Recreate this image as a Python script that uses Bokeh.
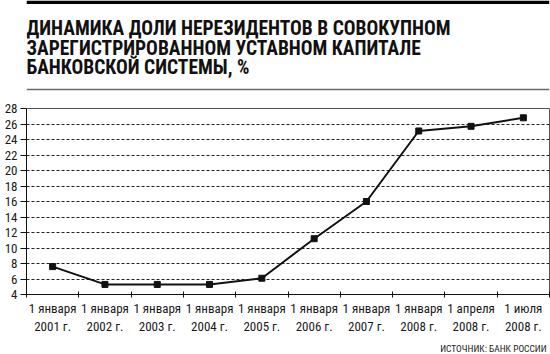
from bokeh.plotting import figure
from bokeh.layouts import column
from bokeh.models import Range1d, FixedTicker, Span
from bokeh.embed import file_html
from bokeh.resources import INLINE
from bokeh.core.properties import value

categories = ["1 января\n2001 г.", "1 января\n2002 г.", "1 января\n2003 г.", "1 января\n2004 г.",
              "1 января\n2005 г.", "1 января\n2006 г.", "1 января\n2007 г.", "1 января\n2008 г.",
              "1 апреля\n2008 г.", "1 июля\n2008 г."]
values = [7.6, 5.3, 5.3, 5.3, 6.1, 11.2, 16.0, 25.1, 25.7, 26.8]
y_ticks = list(range(4, 30, 2))
title_lines = ["ДИНАМИКА ДОЛИ НЕРЕЗИДЕНТОВ В СОВОКУПНОМ",
               "ЗАРЕГИСТРИРОВАННОМ УСТАВНОМ КАПИТАЛЕ",
               "БАНКОВСКОЙ СИСТЕМЫ, %"]
source_text = ["ИСТОЧНИК: БАНК РОССИИ"]

COND = "Roboto Condensed"
W = 550
TOP_H, CHART_H, FOOT_H = 100, 236, 18

# ---------- header ----------
head = figure(width=W, height=TOP_H, output_backend="svg", toolbar_location=None,
              x_range=Range1d(0, W), y_range=Range1d(TOP_H, 0),
              min_border=0, min_border_left=0, min_border_right=0,
              min_border_top=0, min_border_bottom=0)
head.axis.visible = False
head.grid.visible = False
head.outline_line_color = None
head.background_fill_color = "white"
head.border_fill_color = "white"
head.add_layout(Span(location=1.75, dimension="width", line_color="black", line_width=3.5))
head.add_layout(Span(location=89, dimension="width", line_color="#6a6a6a", line_width=1.6))
head.text([0] * len(title_lines), [28 + 19.5 * i for i in range(len(title_lines))],
          text=title_lines, text_font=value(COND), text_font_style="bold",
          text_font_size="19.5px", text_color="#111111",
          text_baseline="alphabetic", text_align="left")

# ---------- chart ----------
FL, FR = 26, 549
p = figure(width=W, height=CHART_H, output_backend="svg", toolbar_location=None,
           x_range=Range1d(0, len(categories)), y_range=Range1d(4, 28),
           min_border_left=FL, min_border_right=W - FR, min_border_top=8,
           min_border_bottom=36)
p.background_fill_color = "white"
p.border_fill_color = "white"
p.outline_line_color = "#555555"
p.outline_line_width = 1

xs = [i + 0.5 for i in range(len(categories))]
p.line(xs, values, line_color="#111111", line_width=2)
p.scatter(xs, values, marker="square", size=6, fill_color="#111111", line_color="#111111")

xa = p.xaxis[0]
xa.ticker = FixedTicker(ticks=xs, minor_ticks=list(range(0, len(categories) + 1)))
xa.major_label_overrides = {x: c for x, c in zip(xs, categories)}
xa.major_tick_in = 0
xa.major_tick_out = 0
xa.minor_tick_in = 3
xa.minor_tick_out = 3
xa.minor_tick_line_color = "#111111"
xa.axis_line_color = "#111111"
xa.major_label_text_font = COND
xa.major_label_text_font_size = "13px"
xa.major_label_text_color = "#1a1a1a"
xa.major_label_standoff = 3

ya = p.yaxis[0]
ya.ticker = FixedTicker(ticks=y_ticks)
ya.major_tick_in = 0
ya.major_tick_out = 6
ya.minor_tick_line_color = None
ya.axis_line_color = "#111111"
ya.major_tick_line_color = "#111111"
ya.major_label_text_font = COND
ya.major_label_text_font_size = "13px"
ya.major_label_text_color = "#1a1a1a"
ya.major_label_standoff = 3

p.xgrid.grid_line_color = None
p.ygrid.ticker = FixedTicker(ticks=y_ticks[1:-1])
p.ygrid.grid_line_color = "#222222"
p.ygrid.grid_line_dash = "3 2"
p.ygrid.grid_line_width = 1

# ---------- footer ----------
foot = figure(width=W, height=FOOT_H, output_backend="svg", toolbar_location=None,
              x_range=Range1d(0, W), y_range=Range1d(FOOT_H, 0),
              min_border=0, min_border_left=0, min_border_right=0,
              min_border_top=0, min_border_bottom=0)
foot.axis.visible = False
foot.grid.visible = False
foot.outline_line_color = None
foot.background_fill_color = "white"
foot.border_fill_color = "white"
foot.text([547], [12], text=source_text, text_font=value(COND),
          text_font_size="9.5px", text_color="#222222",
          text_baseline="alphabetic", text_align="right")

layout = column(head, p, foot, spacing=0)
open("out.html", "w").write(file_html(layout, INLINE))
